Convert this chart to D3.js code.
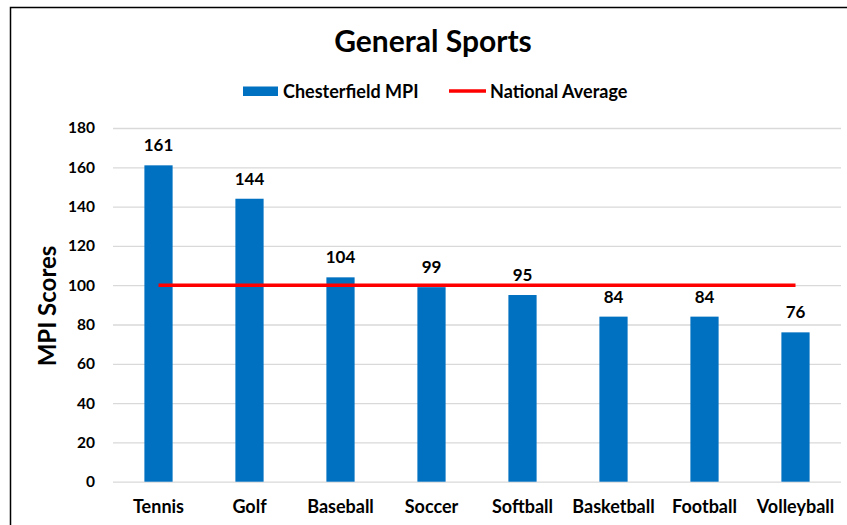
<!DOCTYPE html>
<html>
<head>
<meta charset="utf-8">
<script src="https://cdn.jsdelivr.net/npm/d3@7"></script>
<style>
  html, body { margin: 0; padding: 0; background: #fff; }
  svg { display: block; }
  text { font-family: Lato, "Open Sans", sans-serif; font-weight: bold; fill: #000; }
</style>
</head>
<body>
<script>
const categories = ["Tennis", "Golf", "Baseball", "Soccer", "Softball", "Basketball", "Football", "Volleyball"];
const mpiValues = [161, 144, 104, 99, 95, 84, 84, 76];
const nationalAverage = [100, 100, 100, 100, 100, 100, 100, 100];
const yTicks = [0, 20, 40, 60, 80, 100, 120, 140, 160, 180];
const chartTitle = "General Sports";
const seriesNames = ["Chesterfield MPI", "National Average"];
const yAxisTitle = "MPI Scores";

const W = 847, H = 525;
const svg = d3.select("body").append("svg").attr("width", W).attr("height", H);

// chart border (partially visible)
svg.append("path")
  .attr("d", `M10.5,${H} L10.5,7.5 L${W},7.5`)
  .attr("fill", "none").attr("stroke", "#000").attr("stroke-width", 1.5);

const plotLeft = 113, plotRight = 841, plotTop = 128, plotBottom = 481.7;

const x = d3.scaleBand().domain(categories).range([plotLeft, plotRight])
  .paddingInner(0.69).paddingOuter(0.345);
const y = d3.scaleLinear().domain([0, 180]).range([plotBottom, plotTop]);

// gridlines
const yAxis = d3.axisLeft(y).tickValues(yTicks).tickSize(-(plotRight - plotLeft)).tickPadding(18).tickFormat(d3.format("d"));
const gy = svg.append("g").attr("transform", `translate(${plotLeft},0)`).call(yAxis);
gy.select(".domain").remove();
gy.selectAll(".tick line").attr("stroke", "#d9d9d9").attr("stroke-width", 1.3);
gy.selectAll(".tick text").attr("font-size", 15.5).attr("font-family", "Lato, sans-serif").attr("font-weight", "bold").attr("fill", "#000");

// bars
svg.append("g").selectAll("rect").data(categories).join("rect")
  .attr("x", d => x(d))
  .attr("y", (d, i) => y(mpiValues[i]))
  .attr("width", x.bandwidth())
  .attr("height", (d, i) => y(0) - y(mpiValues[i]))
  .attr("fill", "#0070c0");

// data labels
svg.append("g").selectAll("text").data(categories).join("text")
  .attr("x", d => x(d) + x.bandwidth() / 2)
  .attr("y", (d, i) => y(mpiValues[i]) - 14)
  .attr("text-anchor", "middle")
  .attr("font-size", 17)
  .text((d, i) => mpiValues[i]);

// national average line
const line = d3.line()
  .x((d, i) => x(categories[i]) + x.bandwidth() / 2)
  .y(d => y(d));
svg.append("path").datum(nationalAverage)
  .attr("d", line)
  .attr("fill", "none").attr("stroke", "#ff0000").attr("stroke-width", 3.5);

// x axis labels
const xAxis = d3.axisBottom(x).tickSize(0).tickPadding(19);
const gx = svg.append("g").attr("transform", `translate(0,${plotBottom})`).call(xAxis);
gx.select(".domain").remove();
gx.selectAll(".tick text").attr("font-size", 18).attr("font-family", "Lato, sans-serif").attr("font-weight", "bold").attr("fill", "#000");

// title
svg.append("text").attr("x", 433).attr("y", 52).attr("text-anchor", "middle")
  .attr("font-size", 30).text(chartTitle);

// legend
const lg = svg.append("g");
lg.append("rect").attr("x", 243).attr("y", 86.5).attr("width", 35).attr("height", 9.5).attr("fill", "#0070c0");
lg.append("text").attr("x", 283).attr("y", 97.5).attr("font-size", 18).text(seriesNames[0]);
lg.append("line").attr("x1", 449).attr("x2", 486).attr("y1", 91).attr("y2", 91)
  .attr("stroke", "#ff0000").attr("stroke-width", 3.5);
lg.append("text").attr("x", 490).attr("y", 97.5).attr("font-size", 18).text(seriesNames[1]);

// y axis title
svg.append("text").attr("transform", `translate(56,306) rotate(-90)`)
  .attr("text-anchor", "middle").attr("font-size", 24).text(yAxisTitle);
</script>
</body>
</html>
